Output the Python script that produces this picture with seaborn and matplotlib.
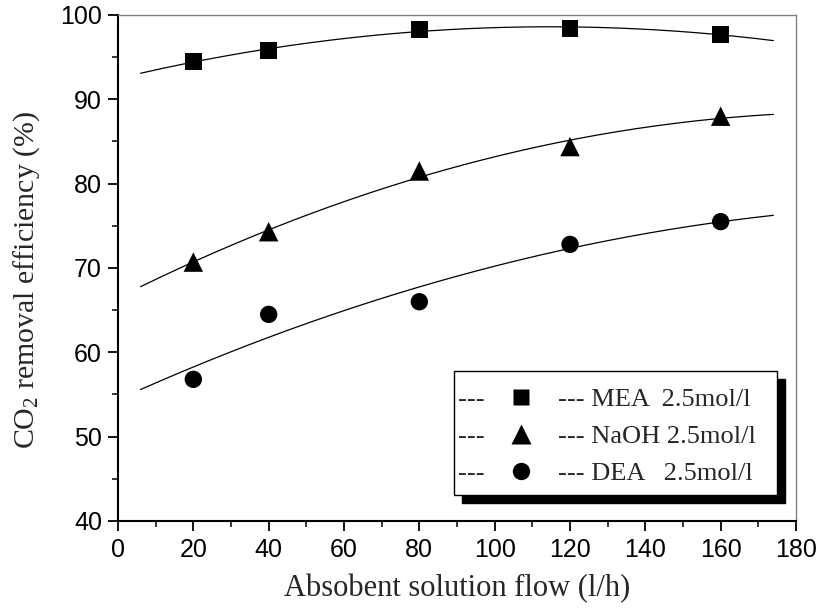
import numpy as np
import pandas as pd
import matplotlib
matplotlib.use("Agg")
import matplotlib.pyplot as plt
import seaborn as sns
from matplotlib.lines import Line2D
from matplotlib.patches import Rectangle
from matplotlib.transforms import IdentityTransform

# ---- data ----
flow = [20, 40, 80, 120, 160]
mea = [94.5, 95.8, 98.3, 98.4, 97.7]
naoh = [70.7, 74.3, 81.5, 84.4, 88.0]
dea = [56.8, 64.5, 66.0, 72.8, 75.5]
series_names = ["MEA", "NaOH", "DEA"]
legend_labels = ["--- MEA  2.5mol/l", "--- NaOH 2.5mol/l", "--- DEA   2.5mol/l"]
x_ticks = list(range(0, 181, 20))
y_ticks = list(range(40, 101, 10))
fit_start, fit_end = 6, 174

sns.set_theme(style="ticks")
plt.rcParams.update({
    "font.family": ["Liberation Serif", "DejaVu Serif"],
    "mathtext.default": "regular",
    "axes.linewidth": 1.5,
})

W, H = 819, 612
fig = plt.figure(figsize=(W / 100, H / 100), dpi=100)
L, R, T, B = 118, 796, 15, 521
ax = fig.add_axes([L / W, 1 - B / H, (R - L) / W, (B - T) / H])

styles = {"MEA": ("s", 12.0), "NaOH": ("^", 14.0), "DEA": ("o", 12.5)}
data = {"MEA": mea, "NaOH": naoh, "DEA": dea}
xs = np.linspace(fit_start, fit_end, 300)
for name in series_names:
    vals = data[name]
    m, ms = styles[name]
    coef = np.polyfit(flow, vals, 2)
    fit = pd.DataFrame({"x": xs, "y": np.polyval(coef, xs)})
    sns.lineplot(data=fit, x="x", y="y", ax=ax, color="black", lw=0.9, zorder=2)
    pts = pd.DataFrame({"x": flow, "y": vals})
    sns.scatterplot(data=pts, x="x", y="y", ax=ax, marker=m, s=ms ** 2,
                    color="black", edgecolor="none", linewidth=0, zorder=3)

ax.set_xlim(0, 180)
ax.set_ylim(40, 100)
ax.set_xticks(x_ticks)
ax.set_yticks(y_ticks)
ax.set_xticks(np.arange(10, 180, 20), minor=True)
ax.set_yticks(np.arange(45, 100, 10), minor=True)
ax.tick_params(which="major", direction="out", length=7.5, width=1.3,
               labelsize=18, colors="black")
ax.tick_params(which="minor", direction="out", length=4.5, width=1.3)
ax.tick_params(top=False, right=False, which="both")
for lab in ax.get_xticklabels() + ax.get_yticklabels():
    lab.set_fontfamily("Liberation Sans")
ax.tick_params(axis="x", pad=5)
ax.tick_params(axis="y", pad=4)
for s in ["top", "right"]:
    ax.spines[s].set_color("#808080")
    ax.spines[s].set_linewidth(1.0)
for s in ["left", "bottom"]:
    ax.spines[s].set_color("black")
    ax.spines[s].set_linewidth(1.5)

ax.set_xlabel("Absobent solution flow (l/h)", fontsize=22, labelpad=8)
ax.set_ylabel("CO$_2$ removal efficiency (%)", fontsize=21.5)
ax.yaxis.set_label_coords((42 - L) / (R - L), (B - 280) / (B - T))

# ---- legend ----
handles = [Line2D([], [], ls="none", marker=styles[n][0], ms=styles[n][1],
                  color="black", mec="none") for n in series_names]
leg = ax.legend(handles, legend_labels, loc="upper left", frameon=False,
                bbox_to_anchor=(492 / W, 1 - 388 / H), bbox_transform=fig.transFigure,
                borderaxespad=0, borderpad=0, fontsize=19, handlelength=2.2,
                handletextpad=0.3, labelspacing=0.5)
leg.set_zorder(6)

fx0, fy0, fx1, fy1 = 454, 371, 777, 495
off = 8
ax.add_patch(Rectangle(((fx0 + off) / W, 1 - (fy1 + off) / H), (fx1 - fx0) / W,
                       (fy1 - fy0) / H, transform=fig.transFigure, clip_on=False,
                       facecolor="black", edgecolor="black", zorder=4))
ax.add_patch(Rectangle((fx0 / W, 1 - fy1 / H), (fx1 - fx0) / W, (fy1 - fy0) / H,
                       transform=fig.transFigure, clip_on=False, facecolor="white",
                       edgecolor="black", lw=1.0, zorder=5))

fig.canvas.draw()
for t in leg.get_texts():
    bb = t.get_window_extent()
    ax.text(458, bb.y0, "---", transform=IdentityTransform(), fontsize=19,
            va="bottom", ha="left", zorder=7, clip_on=False)

fig.savefig("out.png", dpi=100)
